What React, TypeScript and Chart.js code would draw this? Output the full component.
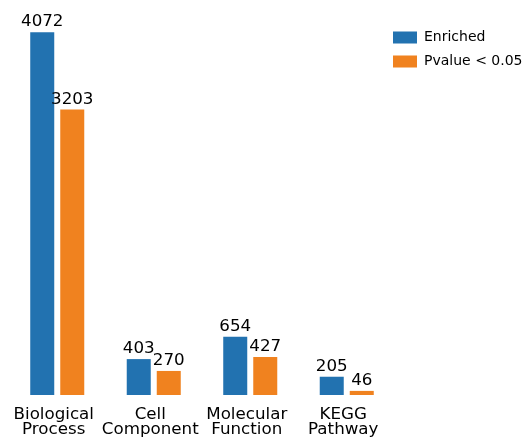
import React, { useEffect, useRef } from "react";
import { Chart, registerables } from "chart.js";

Chart.register(...registerables);

const categories: string[][] = [
  ["Biological", "Process"],
  ["Cell", "Component"],
  ["Molecular", "Function"],
  ["KEGG", "Pathway"],
];
const enriched: number[] = [4072, 403, 654, 205];
const pvalue: number[] = [3203, 270, 427, 46];
const seriesNames: string[] = ["Enriched", "Pvalue < 0.05"];
const seriesColors: string[] = ["#2272b0", "#f0821f"];

const FONT = "'DejaVu Sans', sans-serif";

const valueLabels = {
  id: "valueLabels",
  afterDatasetsDraw(chart: any) {
    const ctx = chart.ctx;
    ctx.save();
    ctx.font = `16.7px ${FONT}`;
    ctx.fillStyle = "#000";
    ctx.textAlign = "center";
    ctx.textBaseline = "alphabetic";
    chart.data.datasets.forEach((ds: any, di: number) => {
      const meta = chart.getDatasetMeta(di);
      meta.data.forEach((el: any, i: number) => {
        ctx.fillText(String(ds.data[i]), el.x, el.y - 6);
      });
    });
    ctx.restore();
  },
};

const customLegend = {
  id: "customLegend",
  afterDraw(chart: any) {
    const ctx = chart.ctx;
    ctx.save();
    ctx.font = `14px ${FONT}`;
    ctx.textAlign = "left";
    ctx.textBaseline = "middle";
    const x0 = chart.chartArea.right - 2;
    chart.data.datasets.forEach((ds: any, i: number) => {
      const cy = 37.5 + i * 24;
      ctx.fillStyle = ds.backgroundColor;
      ctx.fillRect(x0, cy - 6, 24, 12);
      ctx.fillStyle = "#000";
      ctx.fillText(ds.label, x0 + 31, cy);
    });
    ctx.restore();
  },
};

export default function App() {
  const ref = useRef<HTMLCanvasElement | null>(null);
  useEffect(() => {
    if (!ref.current) return;
    const chart = new Chart(ref.current, {
      type: "bar",
      data: {
        labels: categories,
        datasets: [
          {
            label: seriesNames[0],
            data: enriched,
            backgroundColor: seriesColors[0],
            borderWidth: 0,
            categoryPercentage: 0.622,
            barPercentage: 0.8,
          },
          {
            label: seriesNames[1],
            data: pvalue,
            backgroundColor: seriesColors[1],
            borderWidth: 0,
            categoryPercentage: 0.622,
            barPercentage: 0.8,
          },
        ],
      },
      options: {
        animation: false,
        responsive: false,
        maintainAspectRatio: false,
        layout: { padding: { left: 9, right: 130, top: 14, bottom: 0 } },
        plugins: {
          legend: { display: false },
          tooltip: { enabled: false },
        },
        scales: {
          x: {
            grid: { display: false, drawTicks: false },
            border: { display: false },
            ticks: {
              font: { family: FONT, size: 16.7, lineHeight: "15px" },
              color: "#000",
              padding: 12,
              labelOffset: -3.5,
              maxRotation: 0,
              autoSkip: false,
            },
            afterFit: (scale: any) => {
              scale.height = 47;
            },
          },
          y: {
            display: false,
            min: 0,
            max: 4276,
          },
        },
      },
      plugins: [valueLabels, customLegend],
    });
    return () => chart.destroy();
  }, []);
  return (
    <div style={{ position: "fixed", left: 0, top: 0, width: 525, height: 442, background: "#fff" }}>
      <canvas ref={ref} width={525} height={442} style={{ width: 525, height: 442 }} />
    </div>
  );
}
